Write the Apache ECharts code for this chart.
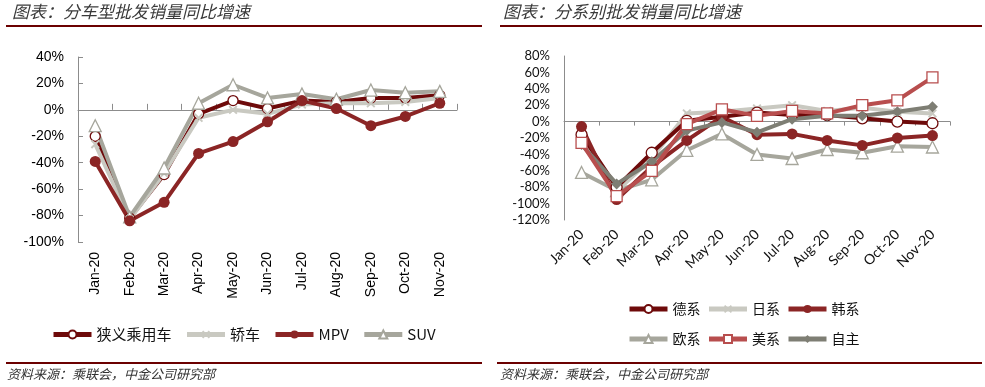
<!DOCTYPE html>
<html><head><meta charset="utf-8">
<script src="https://cdn.jsdelivr.net/npm/echarts@6/dist/echarts.min.js"></script>
<style>html,body{margin:0;padding:0;background:#fff}#c{width:985px;height:387px}</style>
</head><body><div id="c"></div>
<script>
const months = ['Jan-20','Feb-20','Mar-20','Apr-20','May-20','Jun-20','Jul-20','Aug-20','Sep-20','Oct-20','Nov-20'];
// Left chart (by vehicle type), %
const narrowPV = [-20, -82, -49, -3, 7, 1, 7, 6, 9, 9, 11];
const sedan    = [-26, -83, -48, -6, 0, -3, 4, 5, 5, 6, 9];
const mpv      = [-39, -84, -70, -33, -24, -9, 7, 1, -12, -5, 5];
const suv      = [-12, -81, -44, 5, 19, 9, 12, 8, 15, 13, 14];
// Right chart (by brand origin), %
const german   = [-16, -80, -38, 1, 6, 11, 8, 8, 4, 0, -2];
const japanese = [-20, -85, -45, 10, 12, 16, 20, 13, 17, 12, 10];
const korean   = [-6, -95, -55, -23, 6, -16, -15, -23, -29, -20, -17];
const european = [-62, -84, -71, -35, -15, -40, -45, -34, -38, -30, -31];
const american = [-26, -91, -60, -3, 15, 7, 13, 10, 20, 26, 54];
const domestic = [-28, -76, -49, -11, -1, -13, 3, 7, 7, 12, 18];
const leftTicks = {min: -100, max: 40, interval: 20};
const rightTicks = {min: -120, max: 80, interval: 20};

const xPath = 'path://M0,1.5 L1.5,0 L5,3.5 L8.5,0 L10,1.5 L6.5,5 L10,8.5 L8.5,10 L5,6.5 L1.5,10 L0,8.5 L3.5,5 Z';
function mk(name, data, color, symbol, size, hollow, grid) {
  return {
    name, type: 'line', data,
    xAxisIndex: grid === 0 ? 0 : 2, yAxisIndex: grid,
    symbol, symbolSize: size, showAllSymbol: true,
    lineStyle: {color, width: 4},
    itemStyle: hollow ? {color: '#fff', borderColor: color, borderWidth: 1.3} : {color, borderColor: color, borderWidth: 0},
    emphasis: {disabled: true}, animation: false
  };
}
const C = {dk: '#6E0A0A', lt: '#C9C9C1', red: '#8B2525', gr: '#A6A69C', pink: '#B84E4E', dg: '#7E7E74'};
const series = [
  mk('狭义乘用车', narrowPV, C.dk, 'circle', 10, true, 0),
  mk('轿车', sedan, C.lt, xPath, 9, false, 0),
  mk('SUV', suv, C.gr, 'triangle', 12, true, 0),
  mk('MPV', mpv, C.red, 'circle', 11, false, 0),
  mk('欧系', european, C.gr, 'triangle', 12, true, 1),
  mk('日系', japanese, C.lt, xPath, 9, false, 1),
  mk('德系', german, C.dk, 'circle', 11, true, 1),
  mk('韩系', korean, C.red, 'circle', 11, false, 1),
  mk('自主', domestic, C.dg, 'diamond', 11, false, 1),
  mk('美系', american, C.pink, 'rect', 11, true, 1)
];
const axisGray = '#8C8C8C';
const numFont = 'Liberation Sans, Arial, sans-serif';
const cjk = 'Noto Sans CJK SC';
const legendBase = {itemWidth: 38, itemHeight: 10, lineStyle: {width: 5}, textStyle: {fontFamily: cjk, fontSize: 15, color: '#111'}, selectedMode: false};

const option = {
  animation: false,
  grid: [
    {left: 78, top: 57, width: 379, height: 185},
    {left: 564, top: 56, width: 386, height: 164}
  ],
  xAxis: [
    {type: 'category', data: months, gridIndex: 0, position: 'top', boundaryGap: true,
     axisLine: {onZero: true, lineStyle: {color: axisGray, width: 1}},
     axisTick: {show: true, interval: 0, inside: false, length: 6, lineStyle: {color: axisGray}},
     axisLabel: {show: false}, splitLine: {show: false}},
    {type: 'category', data: months, gridIndex: 0, position: 'bottom', boundaryGap: true,
     axisLine: {show: false, onZero: false}, axisTick: {show: false},
     axisLabel: {interval: 0, rotate: 90, margin: 10, fontFamily: numFont, fontSize: 14, color: '#000'}},
    {type: 'category', data: months, gridIndex: 1, position: 'top', boundaryGap: true,
     axisLine: {onZero: true, lineStyle: {color: axisGray, width: 1}},
     axisTick: {show: true, interval: 0, inside: true, length: 4, lineStyle: {color: axisGray}},
     axisLabel: {show: false}, splitLine: {show: false}},
    {type: 'category', data: months, gridIndex: 1, position: 'bottom', boundaryGap: true,
     axisLine: {show: false, onZero: false}, axisTick: {show: false},
     axisLabel: {interval: 0, rotate: 45, margin: 12, fontFamily: 'Lato, sans-serif', fontSize: 14, color: '#111'}}
  ],
  yAxis: [
    {type: 'value', gridIndex: 0, min: leftTicks.min, max: leftTicks.max, interval: leftTicks.interval,
     axisLine: {show: true, lineStyle: {color: axisGray}},
     axisTick: {show: true, inside: true, length: 5, lineStyle: {color: axisGray}},
     splitLine: {show: false},
     axisLabel: {formatter: '{value}%', fontFamily: numFont, fontSize: 14, color: '#000', margin: 14}},
    {type: 'value', gridIndex: 1, min: rightTicks.min, max: rightTicks.max, interval: rightTicks.interval,
     axisLine: {show: true, lineStyle: {color: axisGray}},
     axisTick: {show: false}, splitLine: {show: false},
     axisLabel: {formatter: '{value}%', fontFamily: 'Lato, sans-serif', fontSize: 13, color: '#111', margin: 14}}
  ],
  legend: [
    Object.assign({}, legendBase, {left: 46, top: 322, itemGap: 13, data: ['狭义乘用车', '轿车', 'MPV', 'SUV']}),
    Object.assign({}, legendBase, {left: 622, top: 297, itemGap: 6, textStyle: {fontFamily: cjk, fontSize: 14, color: '#111'}, data: ['德系', '日系', '韩系']}),
    Object.assign({}, legendBase, {left: 622, top: 327, itemGap: 6, textStyle: {fontFamily: cjk, fontSize: 14, color: '#111'}, data: ['欧系', '美系', '自主']})
  ],
  graphic: [
    {type: 'text', left: 12, top: 3, style: {text: '图表：分车型批发销量同比增速', font: 'italic 17px "Noto Sans CJK SC"', fill: '#3a3a3a'}},
    {type: 'text', left: 503, top: 3, style: {text: '图表：分系别批发销量同比增速', font: 'italic 17px "Noto Sans CJK SC"', fill: '#3a3a3a'}},
    {type: 'rect', shape: {x: 6, y: 25, width: 476, height: 2}, style: {fill: '#6B0000'}},
    {type: 'rect', shape: {x: 500, y: 25, width: 482, height: 2}, style: {fill: '#6B0000'}},
    {type: 'rect', shape: {x: 6, y: 362, width: 476, height: 2}, style: {fill: '#6B0000'}},
    {type: 'rect', shape: {x: 497, y: 362, width: 485, height: 2}, style: {fill: '#6B0000'}},
    {type: 'text', left: 7, top: 368, style: {text: '资料来源：乘联会，中金公司研究部', font: 'italic 13px "Noto Sans CJK SC"', fill: '#333'}},
    {type: 'text', left: 500, top: 368, style: {text: '资料来源：乘联会，中金公司研究部', font: 'italic 13px "Noto Sans CJK SC"', fill: '#333'}}
  ],
  series
};
const chart = echarts.init(document.getElementById('c'), null, {renderer: 'canvas'});
chart.setOption(option);
</script></body></html>
